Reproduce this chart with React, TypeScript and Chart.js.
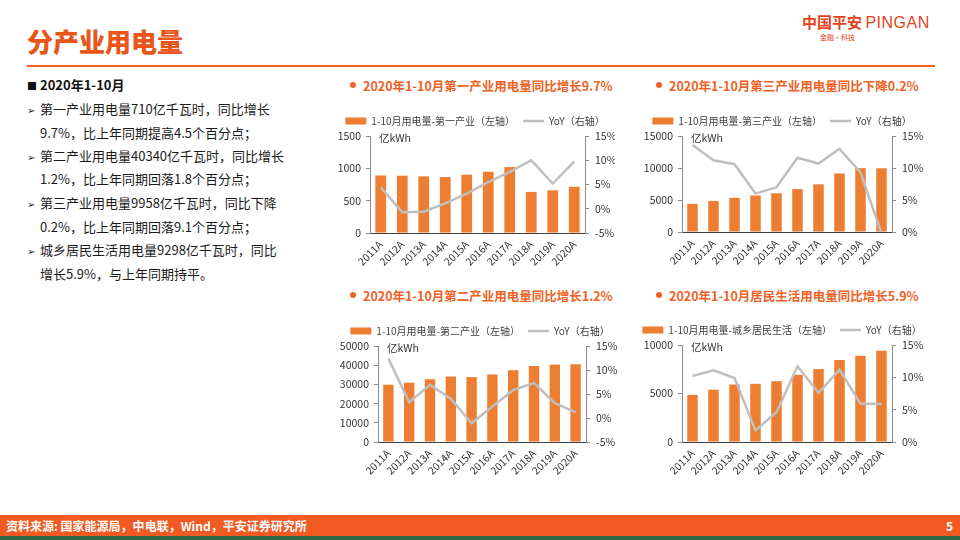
import React, { useEffect, useRef } from 'react';
import { Chart, registerables } from 'chart.js';

Chart.register(...registerables);

const FONT = '"Noto Sans CJK SC", "Noto Sans", sans-serif';
const BAR_COLOR = '#ED7D31';
const LINE_COLOR = '#BFBFBF';
const TITLE_ORANGE = '#EE6226';
const AXIS_GRAY = '#8C8C8C';
const TEXT_DARK = '#333333';

// ---- data ----
const years = ['2011A', '2012A', '2013A', '2014A', '2015A', '2016A', '2017A', '2018A', '2019A', '2020A'];

const primaryUse = [890, 886, 876, 865, 901, 947, 1019, 635, 660, 715];
const primaryYoY = [4.4, -0.7, -0.6, 1.1, 3.1, 5.5, 7.6, 10.0, 5.2, 9.7];

const tertiaryUse = [4400, 4850, 5330, 5700, 6050, 6700, 7450, 9150, 9978, 9958];
const tertiaryYoY = [13.6, 11.2, 10.6, 6.0, 7.0, 11.6, 10.7, 13.0, 9.3, -0.2];

const secondaryUse = [29800, 30900, 32700, 34100, 33800, 35200, 37400, 39600, 40300, 40500];
const secondaryYoY = [12.4, 3.3, 6.9, 4.0, -1.1, 2.4, 5.8, 7.3, 3.1, 1.2];

const residentialUse = [4860, 5400, 5930, 6000, 6270, 6930, 7520, 8450, 8900, 9400];
const residentialYoY = [10.2, 11.1, 9.9, 1.8, 4.6, 11.7, 7.6, 11.2, 5.9, 5.9];

const summaryLines = [
  '第一产业用电量710亿千瓦时，同比增长',
  '9.7%，比上年同期提高4.5个百分点；',
  '第二产业用电量40340亿千瓦时，同比增长',
  '1.2%，比上年同期回落1.8个百分点；',
  '第三产业用电量9958亿千瓦时，同比下降',
  '0.2%，比上年同期回落9.1个百分点；',
  '城乡居民生活用电量9298亿千瓦时，同比',
  '增长5.9%，与上年同期持平。',
];
const summaryArrow = [true, false, true, false, true, false, true, false];

type Spec = {
  title: string;
  barLabel: string;
  bars: number[];
  yoy: number[];
  leftMax: number;
  leftStep: number;
  rightMin: number;
  rightMax: number;
  left: number;
  top: number;
  width: number;
  height: number;
  yL: number;
  yR: number;
  xH: number;
  titleLeft: number;
  titleTop: number;
};

const specs: Spec[] = [
  {
    title: '2020年1-10月第一产业用电量同比增长9.7%',
    barLabel: '1-10月用电量-第一产业（左轴）',
    bars: primaryUse, yoy: primaryYoY,
    leftMax: 1500, leftStep: 500, rightMin: -5, rightMax: 15,
    left: 335, top: 108, width: 280, height: 175, yL: 35, yR: 30, xH: 50,
    titleLeft: 350, titleTop: 85,
  },
  {
    title: '2020年1-10月第三产业用电量同比下降0.2%',
    barLabel: '1-10月用电量-第三产业（左轴）',
    bars: tertiaryUse, yoy: tertiaryYoY,
    leftMax: 15000, leftStep: 5000, rightMin: 0, rightMax: 15,
    left: 627, top: 108, width: 310, height: 175, yL: 55, yR: 45, xH: 51,
    titleLeft: 656, titleTop: 85,
  },
  {
    title: '2020年1-10月第二产业用电量同比增长1.2%',
    barLabel: '1-10月用电量-第二产业（左轴）',
    bars: secondaryUse, yoy: secondaryYoY,
    leftMax: 50000, leftStep: 10000, rightMin: -5, rightMax: 15,
    left: 338, top: 318, width: 284, height: 175, yL: 40, yR: 36, xH: 51,
    titleLeft: 350, titleTop: 295,
  },
  {
    title: '2020年1-10月居民生活用电量同比增长5.9%',
    barLabel: '1-10月用电量-城乡居民生活（左轴）',
    bars: residentialUse, yoy: residentialYoY,
    leftMax: 10000, leftStep: 5000, rightMin: 0, rightMax: 15,
    left: 627, top: 317, width: 310, height: 175, yL: 55, yR: 45, xH: 50,
    titleLeft: 656, titleTop: 295,
  },
];

const unitPlugin = {
  id: 'unitLabel',
  afterDraw(chart: any) {
    const { ctx, chartArea } = chart;
    ctx.save();
    ctx.font = `10.5px ${FONT}`;
    ctx.fillStyle = TEXT_DARK;
    ctx.textBaseline = 'middle';
    ctx.textAlign = 'left';
    ctx.fillText('亿kWh', chartArea.left + 9, chartArea.top + 2);
    ctx.restore();
  },
};

function ChartBlock({ spec }: { spec: Spec }) {
  const ref = useRef<HTMLCanvasElement>(null);
  useEffect(() => {
    const tickFont = { family: FONT, size: 10.5 };
    const chart = new Chart(ref.current as HTMLCanvasElement, {
      type: 'bar',
      data: {
        labels: years,
        datasets: [
          {
            type: 'bar',
            label: spec.barLabel,
            data: spec.bars,
            backgroundColor: BAR_COLOR,
            borderWidth: 0,
            yAxisID: 'y',
            barPercentage: 0.5,
            categoryPercentage: 1,
            order: 2,
          } as any,
          {
            type: 'line',
            label: 'YoY（右轴）',
            data: spec.yoy,
            borderColor: LINE_COLOR,
            backgroundColor: LINE_COLOR,
            borderWidth: 2.5,
            pointRadius: 0,
            tension: 0,
            yAxisID: 'y1',
            order: 1,
          } as any,
        ],
      },
      options: {
        responsive: false,
        animation: false,
        events: [],
        layout: { padding: 0 },
        plugins: {
          title: { display: false },
          tooltip: { enabled: false },
          legend: {
            display: true,
            position: 'top',
            align: 'center',
            labels: {
              usePointStyle: true,
              pointStyleWidth: 21,
              boxHeight: 7,
              padding: 8,
              color: '#404040',
              font: { family: FONT, size: 10 },
              sort: (a: any, b: any) => a.datasetIndex - b.datasetIndex,
              generateLabels: (c: any) => {
                const items = (Chart.defaults.plugins.legend.labels as any).generateLabels(c);
                items.forEach((it: any) => {
                  it.pointStyle = it.datasetIndex === 0 ? 'rect' : 'line';
                });
                return items;
              },
            },
          },
        },
        scales: {
          x: {
            grid: { display: false, drawTicks: false },
            border: { display: true, color: '#404040', width: 1 },
            ticks: {
              font: tickFont,
              color: TEXT_DARK,
              minRotation: 45,
              maxRotation: 45,
              autoSkip: false,
              padding: 5,
            },
            afterFit: (s: any) => { s.height = spec.xH; },
          },
          y: {
            position: 'left',
            min: 0,
            max: spec.leftMax,
            ticks: {
              stepSize: spec.leftStep,
              font: tickFont,
              color: TEXT_DARK,
              padding: 5,
              callback: (v: any) => String(v),
            },
            grid: { drawOnChartArea: false, drawTicks: true, tickLength: 4, color: AXIS_GRAY },
            border: { display: true, color: AXIS_GRAY, width: 1 },
            afterFit: (s: any) => { s.width = spec.yL; },
          },
          y1: {
            position: 'right',
            min: spec.rightMin,
            max: spec.rightMax,
            ticks: {
              stepSize: 5,
              font: tickFont,
              color: TEXT_DARK,
              padding: 6,
              callback: (v: any) => `${v}%`,
            },
            grid: { drawOnChartArea: false, drawTicks: true, tickLength: 4, color: AXIS_GRAY },
            border: { display: true, color: AXIS_GRAY, width: 1 },
            afterFit: (s: any) => { s.width = spec.yR; },
          },
        },
      } as any,
      plugins: [unitPlugin],
    });
    return () => chart.destroy();
  }, [spec]);

  return (
    <>
      <div
        style={{
          position: 'absolute',
          left: spec.titleLeft,
          top: spec.titleTop - 9,
          height: 18,
          display: 'flex',
          alignItems: 'center',
          whiteSpace: 'nowrap',
        }}
      >
        <span
          style={{
            display: 'inline-block',
            width: 6,
            height: 6,
            borderRadius: '50%',
            background: TITLE_ORANGE,
            marginRight: 7,
          }}
        />
        <span style={{ fontSize: 12.5, fontWeight: 700, color: TITLE_ORANGE }}>{spec.title}</span>
      </div>
      <canvas
        ref={ref}
        width={spec.width}
        height={spec.height}
        style={{ position: 'absolute', left: spec.left, top: spec.top, width: spec.width, height: spec.height }}
      />
    </>
  );
}

export default function App() {
  const lineCenters = [109.3, 132.7, 156, 179.3, 203.3, 226.7, 250, 274];
  return (
    <div
      style={{
        position: 'absolute',
        left: 0,
        top: 0,
        width: 960,
        height: 540,
        background: '#ffffff',
        overflow: 'hidden',
        fontFamily: FONT,
      }}
    >
      {/* header */}
      <div
        style={{
          position: 'absolute',
          left: 27,
          top: 24,
          fontSize: 26,
          fontWeight: 900,
          color: '#E8561A',
          lineHeight: '34px',
          whiteSpace: 'nowrap',
        }}
      >
        分产业用电量
      </div>
      <div style={{ position: 'absolute', left: 27, top: 65, width: 908, height: 2, background: '#F0621E' }} />
      <div
        style={{
          position: 'absolute',
          left: 802,
          top: 12,
          fontSize: 15,
          fontWeight: 700,
          color: '#E5421C',
          lineHeight: '20px',
          whiteSpace: 'nowrap',
        }}
      >
        中国平安 <span style={{ fontFamily: '"Liberation Sans", sans-serif', fontWeight: 400, fontSize: 16, letterSpacing: 0.5 }}>PINGAN</span>
      </div>
      <div
        style={{
          position: 'absolute',
          left: 820,
          top: 32,
          fontSize: 7,
          color: '#E5421C',
          lineHeight: '10px',
          whiteSpace: 'nowrap',
        }}
      >
        金融·科技
      </div>

      {/* left summary */}
      <div
        style={{
          position: 'absolute',
          left: 27,
          top: 85 - 9,
          height: 18,
          lineHeight: '18px',
          fontSize: 13,
          fontWeight: 700,
          color: '#111',
          whiteSpace: 'nowrap',
        }}
      >
        <span style={{ display: 'inline-block', width: 13, fontSize: 10 }}>■</span>2020年1-10月
      </div>
      {summaryLines.map((t, i) => (
        <div
          key={i}
          style={{
            position: 'absolute',
            left: 27,
            top: lineCenters[i] - 9,
            height: 18,
            lineHeight: '18px',
            fontSize: 13,
            color: '#1a1a1a',
            whiteSpace: 'nowrap',
          }}
        >
          <span style={{ display: 'inline-block', width: 13, fontSize: 10, fontFamily: '"DejaVu Sans", sans-serif' }}>
            {summaryArrow[i] ? '➢' : ''}
          </span>
          {t}
        </div>
      ))}

      {specs.map((s, i) => (
        <ChartBlock key={i} spec={s} />
      ))}

      {/* footer */}
      <div style={{ position: 'absolute', left: 0, top: 515, width: 960, height: 21, background: '#F15A22' }} />
      <div
        style={{
          position: 'absolute',
          left: 6,
          top: 515,
          height: 21,
          lineHeight: '21px',
          fontSize: 12,
          fontWeight: 700,
          color: '#ffffff',
          whiteSpace: 'nowrap',
        }}
      >
        资料来源: 国家能源局，中电联，Wind，平安证券研究所
      </div>
      <div
        style={{
          position: 'absolute',
          right: 7,
          top: 515,
          height: 21,
          lineHeight: '21px',
          fontSize: 12,
          fontWeight: 700,
          color: '#ffffff',
        }}
      >
        5
      </div>
      <div style={{ position: 'absolute', left: 0, top: 536, width: 960, height: 4, background: '#2F6B45' }} />
    </div>
  );
}
